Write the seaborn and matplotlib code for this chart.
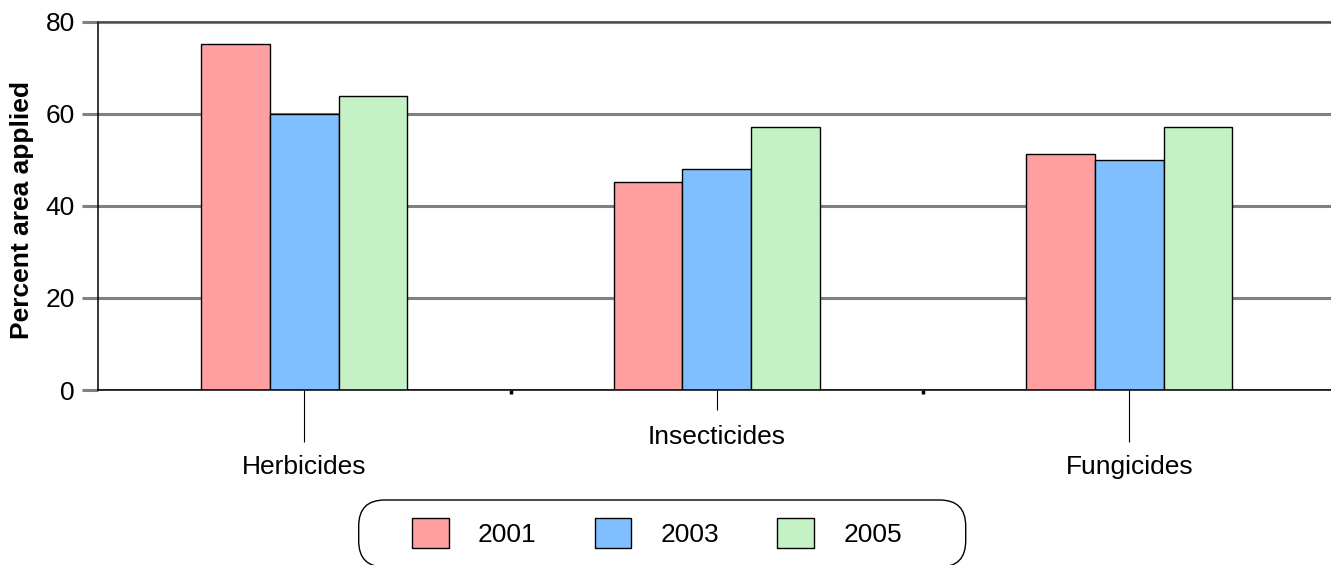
import numpy as np
import pandas as pd
import matplotlib
matplotlib.use("Agg")
import matplotlib.pyplot as plt
import seaborn as sns
from matplotlib.patches import FancyBboxPatch
from matplotlib.transforms import IdentityTransform

categories = ["Herbicides", "Insecticides", "Fungicides"]
years = ["2001", "2003", "2005"]
values_2001 = [75.2, 45.3, 51.2]
values_2003 = [60.0, 48.0, 49.9]
values_2005 = [63.9, 57.2, 57.2]
colors = ["#FF9F9F", "#80BFFF", "#C4F2C4"]
y_ticks = [0, 20, 40, 60, 80]
y_label = "Percent area applied"

df = pd.DataFrame({
    "category": categories * 3,
    "year": [y for y in years for _ in categories],
    "value": values_2001 + values_2003 + values_2005,
})

sns.set_theme(style="white")
plt.rcParams["font.family"] = ["Liberation Sans", "DejaVu Sans"]
plt.rcParams["text.color"] = "black"
plt.rcParams["xtick.labelcolor"] = "black"
plt.rcParams["ytick.labelcolor"] = "black"

W, H = 1331, 565
fig = plt.figure(figsize=(W / 100, H / 100), dpi=100)
ax = fig.add_axes([98 / W, 1 - 390 / H, 1237.5 / W, 368 / H])

sns.barplot(data=df, x="category", y="value", hue="year", hue_order=years,
            order=categories, palette=colors, width=0.5, saturation=1,
            edgecolor="black", linewidth=1, ax=ax)

ax.set_xlim(-0.5, 2.5)
ax.set_ylim(0, 80)
ax.set_yticks(y_ticks)
ax.set_yticklabels([str(t) for t in y_ticks], fontsize=19, color="black")
ax.set_axisbelow(True)
ax.yaxis.grid(True, color="#808080", lw=2.2)
ax.xaxis.grid(False)
ax.set_xlabel("")
ax.set_ylabel("")

for s in ["left", "bottom"]:
    ax.spines[s].set_visible(True)
    ax.spines[s].set_color("black")
    ax.spines[s].set_linewidth(1.1)
ax.spines["top"].set_visible(True)
ax.spines["top"].set_color("#404040")
ax.spines["top"].set_linewidth(1.2)
ax.spines["right"].set_visible(False)

# x ticks, staggered labels
ax.set_xticks([0, 1, 2])
ax.set_xticklabels(["\n" + categories[0], categories[1], "\n" + categories[2]],
                   fontsize=19, linespacing=1.35, color="black")
ax.tick_params(axis="x", which="major", bottom=True, length=14.4, width=0.8,
               color="black", pad=10.6)
for i, tick in enumerate(ax.xaxis.get_major_ticks()):
    tick.tick1line.set_markersize(14.4 if i == 1 else 37.4)
ax.set_xticks([0.5, 1.5], minor=True)
ax.tick_params(axis="x", which="minor", bottom=True, length=3, width=2.5, color="black")

ax.tick_params(axis="y", left=True, length=11.5, width=2.2, color="#808080",
               pad=5, labelcolor="black")

fig.text(22 / W, 1 - 210 / H, y_label, rotation=90, ha="center", va="center",
         fontsize=19, fontweight="bold", color="black")

handles, labels = ax.get_legend_handles_labels()
ax.get_legend().remove()
fig.legend(handles, labels, loc="center", bbox_to_anchor=(656.8 / W, 1 - 533 / H),
           ncol=3, frameon=False, fontsize=19, handlelength=1.4, handleheight=1.4,
           handletextpad=1.1, columnspacing=2.2, borderpad=0)

box = FancyBboxPatch((358.7, -2), 607, 67,
                     boxstyle="round,pad=0,rounding_size=26",
                     transform=IdentityTransform(), fill=False,
                     ec="black", lw=1)
fig.add_artist(box)

fig.savefig("out.png", dpi=100)
